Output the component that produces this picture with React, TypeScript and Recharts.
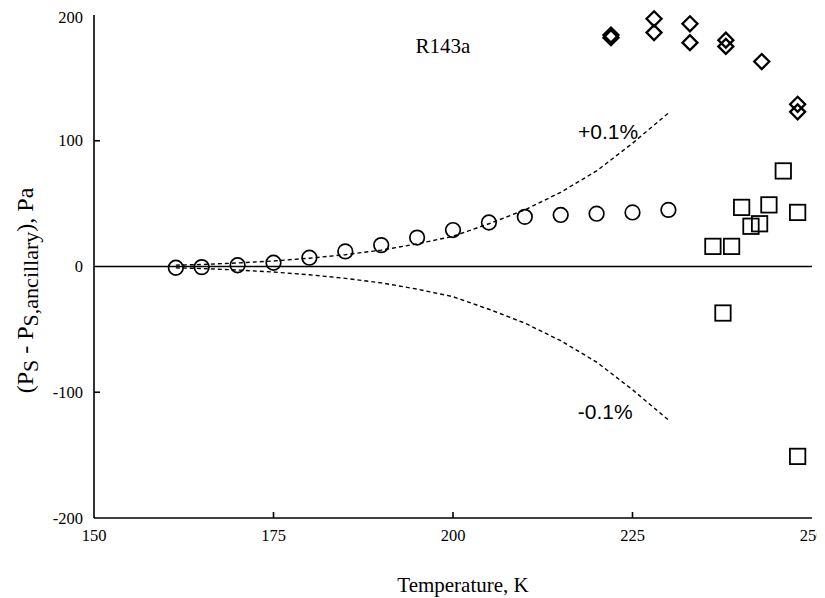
import React from 'react';
import { ComposedChart, XAxis, YAxis, Line, Scatter, ReferenceLine, ReferenceDot } from 'recharts';

const xTicks = [150, 175, 200, 225, 250];
const yTicks = [-200, -100, 0, 100, 200];

// this work (circles)
const circleT = [161.4, 165, 170, 175, 180, 185, 190, 195, 200, 205, 210, 215, 220, 225, 230];
const circleDev = [-1, -0.5, 1, 3, 7, 12, 17, 23, 29, 35, 39.5, 41, 42, 43, 45];

// diamonds
const diamondT = [222, 222, 228, 228, 233, 233, 238, 238, 243, 248, 248];
const diamondDev = [182, 184, 197, 186, 193, 178, 180, 175, 163, 129, 123];

// squares
const squareT = [236.2, 238.8, 237.6, 240.2, 241.5, 242.7, 244, 246, 248, 248];
const squareDev = [16, 16, -37, 47, 32, 34, 49, 76, 43, -151];

// +/-0.1 % bands
const bandT = [161.4, 165, 170, 175, 180, 185, 190, 195, 200, 205, 210, 215, 220, 225, 230];
const bandPlus = [1.1, 1.6, 2.8, 4.4, 6.6, 9.4, 13, 18, 24, 34, 45, 59, 76, 98, 122];
const bandMinus = [-1.1, -1.6, -2.8, -4.4, -6.6, -9.4, -13, -18, -24, -34, -45, -59, -76, -98, -122];

const toPts = (xs: number[], ys: number[]) => xs.map((x, i) => ({ x, y: ys[i] }));
const circles = toPts(circleT, circleDev);
const diamonds = toPts(diamondT, diamondDev);
const squares = toPts(squareT, squareDev);
const plus = toPts(bandT, bandPlus);
const minus = toPts(bandT, bandMinus);

const SERIF = '"Liberation Serif", "Times New Roman", serif';
const SANS = '"Liberation Sans", Arial, sans-serif';
const AX = 1.6;

const BottomTick = (p: any) => {
  const v = p.payload.value;
  return (
    <g>
      {v > 150 && v < 250 && <line x1={p.x} x2={p.x} y1={p.y} y2={p.y - 6} stroke="#000" strokeWidth={AX} />}
      <text x={p.x} y={p.y + 17} textAnchor="middle" dominantBaseline="central" fontFamily={SERIF} fontSize={16.5} fill="#000">{v}</text>
    </g>
  );
};
const TopTick = (p: any) => {
  const v = p.payload.value;
  if (v <= 150 || v >= 250) return <g />;
  return <line x1={p.x} x2={p.x} y1={p.y} y2={p.y + 6} stroke="#000" strokeWidth={AX} />;
};
const LeftTick = (p: any) => {
  const v = p.payload.value;
  return (
    <g>
      {v > -200 && v < 200 && v !== 0 && <line x1={p.x} x2={p.x + 6} y1={p.y} y2={p.y} stroke="#000" strokeWidth={AX} />}
      <text x={p.x - 11} y={p.y} textAnchor="end" dominantBaseline="central" fontFamily={SERIF} fontSize={16.5} fill="#000">{v}</text>
    </g>
  );
};
const RightTick = (p: any) => {
  const v = p.payload.value;
  if (v <= -200 || v >= 200 || v === 0) return <g />;
  return <line x1={p.x} x2={p.x - 6} y1={p.y} y2={p.y} stroke="#000" strokeWidth={AX} />;
};

const CircleShape = (p: any) => <circle cx={p.cx} cy={p.cy} r={7.3} fill="none" stroke="#000" strokeWidth={1.7} />;
const SquareShape = (p: any) => <rect x={p.cx - 7.7} y={p.cy - 7.7} width={15.4} height={15.4} fill="none" stroke="#000" strokeWidth={1.8} />;
const DiamondShape = (p: any) => (
  <path d={`M${p.cx},${p.cy - 7.5} L${p.cx + 7.5},${p.cy} L${p.cx},${p.cy + 7.5} L${p.cx - 7.5},${p.cy} Z`} fill="none" stroke="#000" strokeWidth={2.3} />
);

const XLabel = (p: any) => {
  const vb = p.viewBox;
  return (
    <text x={vb.x + vb.width / 2 + 10} y={vb.y + 67} textAnchor="middle" dominantBaseline="central" fontFamily={SERIF} fontSize={21} fill="#000">
      Temperature, K
    </text>
  );
};
const YLabel = (p: any) => {
  const vb = p.viewBox;
  const cx = vb.x - 9;
  const cy = vb.y + vb.height / 2 + 24;
  return (
    <text x={cx} y={cy} transform={`rotate(-90, ${cx}, ${cy})`} textAnchor="middle" dominantBaseline="central" fontFamily={SERIF} fontSize={24} fill="#000">
      (P<tspan dy={5} fontSize={22}>S</tspan><tspan dy={-5}> - P</tspan><tspan dy={5} fontSize={22}>S,ancillary</tspan><tspan dy={-5}>), Pa</tspan>
    </text>
  );
};

const textShape = (txt: string, font: string, size: number) => (p: any) => (
  <text x={p.cx} y={p.cy} textAnchor="middle" dominantBaseline="central" fontFamily={font} fontSize={size} fill="#000">{txt}</text>
);

export default function App() {
  return (
    <ComposedChart width={817} height={590} margin={{ top: 7, right: 13, bottom: 50, left: 26 }}>
      <XAxis xAxisId="b" dataKey="x" type="number" domain={[150, 250]} ticks={xTicks} orientation="bottom" height={30}
        axisLine={{ stroke: '#000', strokeWidth: AX }} tickLine={false} tickSize={0} tickMargin={0} tick={<BottomTick />} label={{ content: <XLabel /> } as any} />
      <XAxis xAxisId="t" dataKey="x" type="number" domain={[150, 250]} ticks={xTicks} orientation="top" height={0}
        axisLine={{ stroke: '#000', strokeWidth: AX }} tickLine={false} tickSize={0} tickMargin={0} tick={<TopTick />} />
      <YAxis yAxisId="l" type="number" domain={[-200, 200]} ticks={yTicks} orientation="left" width={60}
        axisLine={{ stroke: '#000', strokeWidth: AX }} tickLine={false} tickSize={0} tickMargin={0} tick={<LeftTick />} label={{ content: <YLabel /> } as any} />
      <YAxis yAxisId="r" type="number" domain={[-200, 200]} ticks={yTicks} orientation="right" width={0}
        axisLine={{ stroke: '#000', strokeWidth: AX }} tickLine={false} tickSize={0} tickMargin={0} tick={<RightTick />} />
      <ReferenceLine xAxisId="b" yAxisId="l" y={0} stroke="#000" strokeWidth={1.6} />
      <Line xAxisId="b" yAxisId="l" data={plus} dataKey="y" type="linear" stroke="#000" strokeWidth={1.4} strokeDasharray="4 3" dot={false} activeDot={false} isAnimationActive={false} />
      <Line xAxisId="b" yAxisId="l" data={minus} dataKey="y" type="linear" stroke="#000" strokeWidth={1.4} strokeDasharray="4 3" dot={false} activeDot={false} isAnimationActive={false} />
      <Scatter xAxisId="b" yAxisId="l" data={circles} dataKey="y" shape={<CircleShape />} isAnimationActive={false} />
      <Scatter xAxisId="b" yAxisId="l" data={squares} dataKey="y" shape={<SquareShape />} isAnimationActive={false} />
      <Scatter xAxisId="b" yAxisId="l" data={diamonds} dataKey="y" shape={<DiamondShape />} isAnimationActive={false} />
      <ReferenceDot xAxisId="b" yAxisId="l" x={221.6} y={107} r={0} shape={textShape('+0.1%', SANS, 21)} />
      <ReferenceDot xAxisId="b" yAxisId="l" x={221.2} y={-115} r={0} shape={textShape('-0.1%', SANS, 21)} />
      <ReferenceDot xAxisId="b" yAxisId="l" x={198.6} y={175} r={0} shape={textShape('R143a', SERIF, 21)} />
    </ComposedChart>
  );
}
